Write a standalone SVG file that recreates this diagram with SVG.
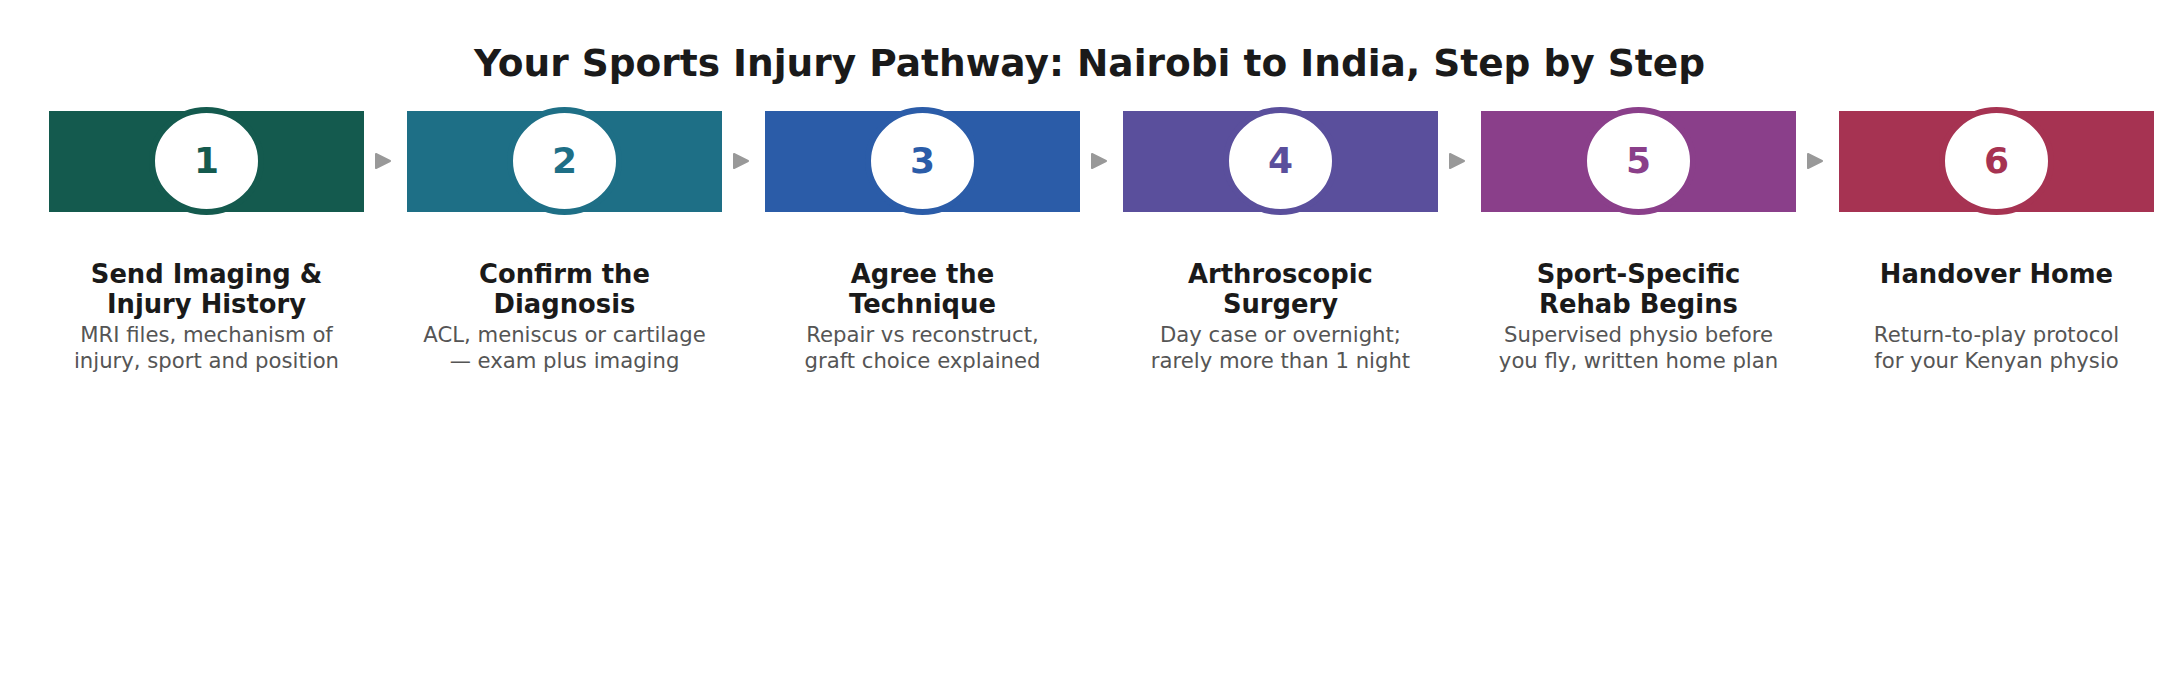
<svg xmlns="http://www.w3.org/2000/svg" width="2179" height="699" viewBox="0 0 2179 699">
<style>
.title{font-family:"DejaVu Sans",sans-serif;font-weight:bold;font-size:37.5px;fill:#1a1a1a;text-anchor:middle}
.num{font-family:"DejaVu Sans",sans-serif;font-weight:bold;font-size:36px;text-anchor:middle}
.lbl{font-family:"DejaVu Sans",sans-serif;font-weight:bold;font-size:25.8px;fill:#1a1a1a;text-anchor:middle}
.desc{font-family:"DejaVu Sans",sans-serif;font-size:21.2px;fill:#555555;text-anchor:middle}
.ring{fill:#ffffff;stroke-width:6}
.arrow{fill:#999999;stroke:#999999;stroke-width:2;stroke-linejoin:round}
</style>
<rect width="2179" height="699" fill="#ffffff"/>
<text class="title" x="1089.5" y="76">Your Sports Injury Pathway: Nairobi to India, Step by Step</text>
<g id="connectors">
<polygon class="arrow" points="376,154 390,161 376,168"/>
<polygon class="arrow" points="734,154 748,161 734,168"/>
<polygon class="arrow" points="1092,154 1106,161 1092,168"/>
<polygon class="arrow" points="1450,154 1464,161 1450,168"/>
<polygon class="arrow" points="1808,154 1822,161 1808,168"/>
</g>
<g id="step1">
<rect x="49" y="111" width="315" height="101" fill="#145a4e"/>
<ellipse class="ring" cx="206.5" cy="161" rx="54.5" ry="51" stroke="#145a4e"/>
<text class="num" x="206.5" y="173" fill="#145a4e">1</text>
<text class="lbl" x="206.5" y="283">Send Imaging &amp;</text>
<text class="lbl" x="206.5" y="313">Injury History</text>
<text class="desc" x="206.5" y="342">MRI files, mechanism of</text>
<text class="desc" x="206.5" y="368">injury, sport and position</text>
</g>
<g id="step2">
<rect x="407" y="111" width="315" height="101" fill="#1e6f86"/>
<ellipse class="ring" cx="564.5" cy="161" rx="54.5" ry="51" stroke="#1e6f86"/>
<text class="num" x="564.5" y="173" fill="#1e6f86">2</text>
<text class="lbl" x="564.5" y="283">Confirm the</text>
<text class="lbl" x="564.5" y="313">Diagnosis</text>
<text class="desc" x="564.5" y="342">ACL, meniscus or cartilage</text>
<text class="desc" x="564.5" y="368">— exam plus imaging</text>
</g>
<g id="step3">
<rect x="765" y="111" width="315" height="101" fill="#2b5ca8"/>
<ellipse class="ring" cx="922.5" cy="161" rx="54.5" ry="51" stroke="#2b5ca8"/>
<text class="num" x="922.5" y="173" fill="#2b5ca8">3</text>
<text class="lbl" x="922.5" y="283">Agree the</text>
<text class="lbl" x="922.5" y="313">Technique</text>
<text class="desc" x="922.5" y="342">Repair vs reconstruct,</text>
<text class="desc" x="922.5" y="368">graft choice explained</text>
</g>
<g id="step4">
<rect x="1123" y="111" width="315" height="101" fill="#5a4f9c"/>
<ellipse class="ring" cx="1280.5" cy="161" rx="54.5" ry="51" stroke="#5a4f9c"/>
<text class="num" x="1280.5" y="173" fill="#5a4f9c">4</text>
<text class="lbl" x="1280.5" y="283">Arthroscopic</text>
<text class="lbl" x="1280.5" y="313">Surgery</text>
<text class="desc" x="1280.5" y="342">Day case or overnight;</text>
<text class="desc" x="1280.5" y="368">rarely more than 1 night</text>
</g>
<g id="step5">
<rect x="1481" y="111" width="315" height="101" fill="#8a3f8a"/>
<ellipse class="ring" cx="1638.5" cy="161" rx="54.5" ry="51" stroke="#8a3f8a"/>
<text class="num" x="1638.5" y="173" fill="#8a3f8a">5</text>
<text class="lbl" x="1638.5" y="283">Sport-Specific</text>
<text class="lbl" x="1638.5" y="313">Rehab Begins</text>
<text class="desc" x="1638.5" y="342">Supervised physio before</text>
<text class="desc" x="1638.5" y="368">you fly, written home plan</text>
</g>
<g id="step6">
<rect x="1839" y="111" width="315" height="101" fill="#a63352"/>
<ellipse class="ring" cx="1996.5" cy="161" rx="54.5" ry="51" stroke="#a63352"/>
<text class="num" x="1996.5" y="173" fill="#a63352">6</text>
<text class="lbl" x="1996.5" y="283">Handover Home</text>
<text class="desc" x="1996.5" y="342">Return-to-play protocol</text>
<text class="desc" x="1996.5" y="368">for your Kenyan physio</text>
</g>
</svg>
